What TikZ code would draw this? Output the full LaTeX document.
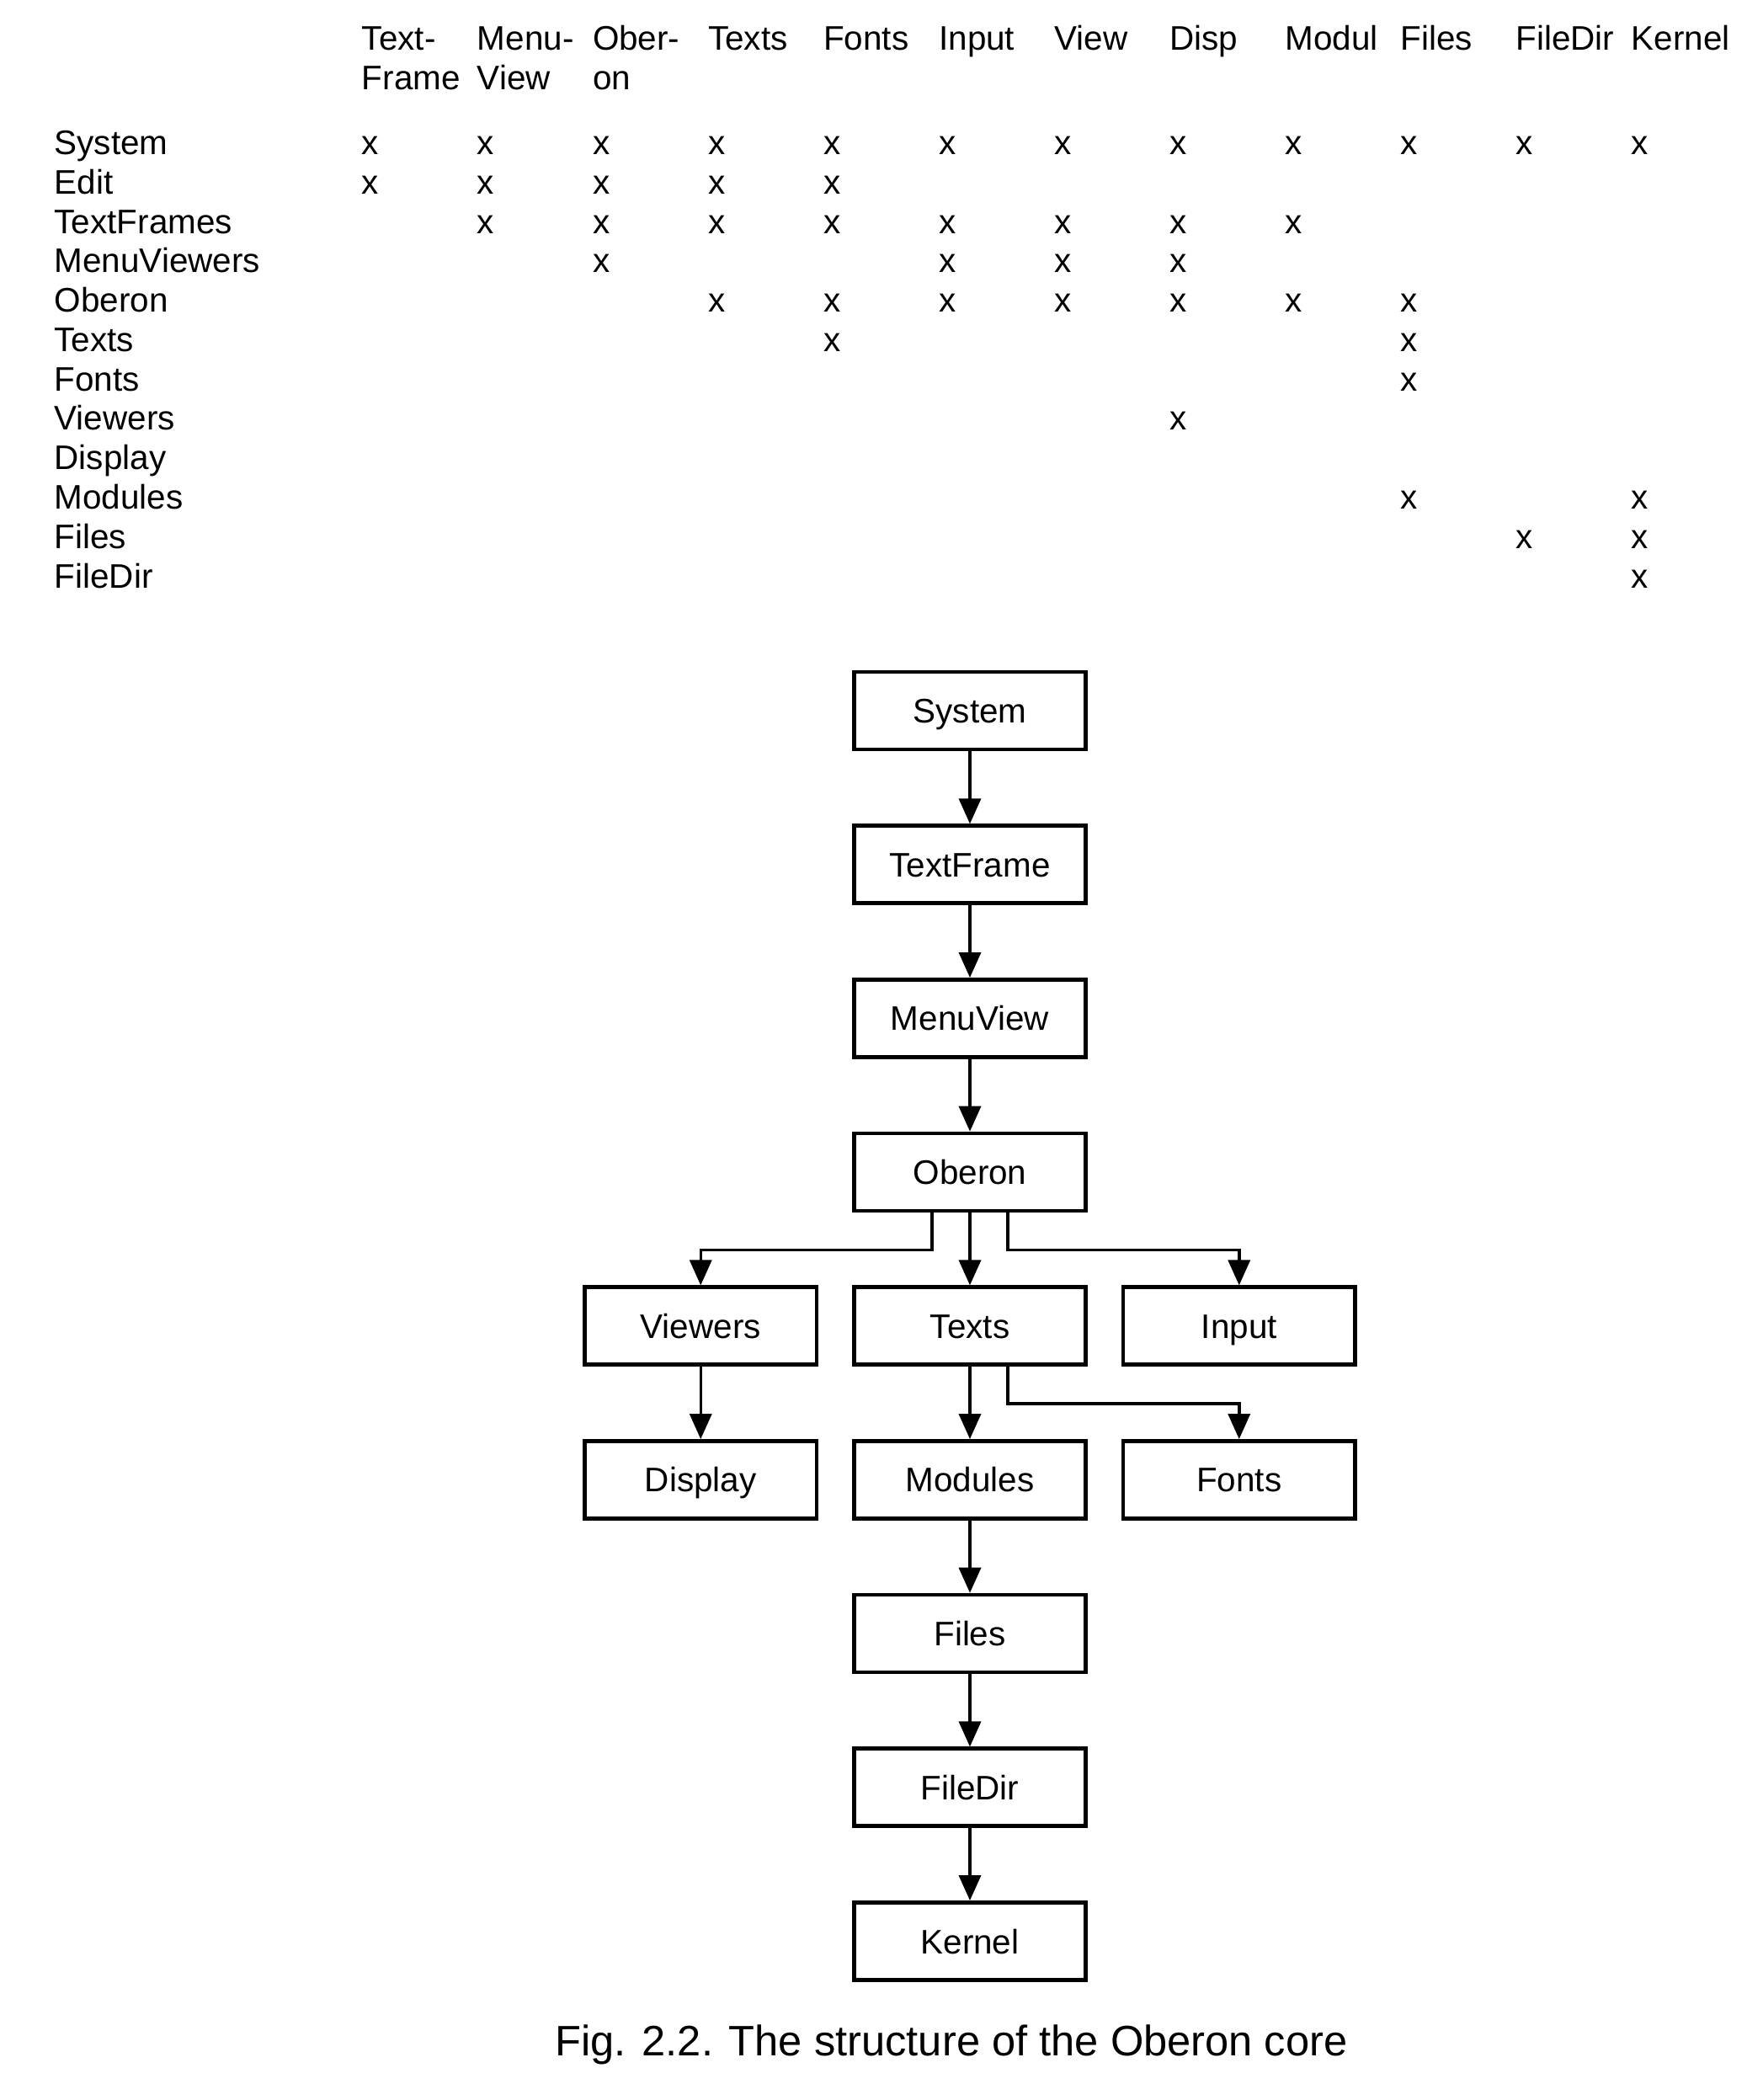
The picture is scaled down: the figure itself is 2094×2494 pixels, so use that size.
\documentclass[tikz,border=0pt]{standalone}
\usepackage{fontspec}
\setmainfont{Liberation Sans}
\usetikzlibrary{positioning,arrows.meta}

\begin{document}
\begin{tikzpicture}[x=0.01cm,y=-0.01cm,
  box/.style={draw,line width=1.3pt,minimum width=2.75cm,minimum height=0.92cm,inner sep=0pt,text height=8.3pt,text depth=0pt,font=\fontsize{11.5}{13.3}\selectfont},
  arr/.style={line width=1pt,-{Triangle[length=0.3cm,width=0.26cm]}},
  node distance=0.86cm and 0.40cm]
\useasboundingbox (0,0) rectangle (2094,2494);
\node (table) [anchor=base west,inner sep=0pt,font=\fontsize{11.5}{13.3}\selectfont] at (64,60) {%
\setlength{\tabcolsep}{0pt}%
\begin{tabular}[t]{p{3.65cm}*{12}{p{1.37cm}}}
 & Text- & Menu- & Ober- & Texts & Fonts & Input & View & Disp & Modul & Files & FileDir & Kernel \\
 & Frame & View & on \\[0.3cm]
System      & x & x & x & x & x & x & x & x & x & x & x & x \\
Edit        & x & x & x & x & x \\
TextFrames  &   & x & x & x & x & x & x & x & x \\
MenuViewers &   &   & x &   &   & x & x & x \\
Oberon      &   &   &   & x & x & x & x & x & x & x \\
Texts       &   &   &   &   & x &   &   &   &   & x \\
Fonts       &   &   &   &   &   &   &   &   &   & x \\
Viewers     &   &   &   &   &   &   &   & x \\
Display     \\
Modules     &   &   &   &   &   &   &   &   &   & x &   & x \\
Files       &   &   &   &   &   &   &   &   &   &   & x & x \\
FileDir     &   &   &   &   &   &   &   &   &   &   &   & x \\
\end{tabular}};

\node (system) [box] at (1152,844) {System};
\node (textframe) [box,below=of system] {TextFrame};
\node (menuview) [box,below=of textframe] {MenuView};
\node (oberon) [box,below=of menuview] {Oberon};
\node (texts) [box,below=of oberon] {Texts};
\node (viewers) [box,left=of texts] {Viewers};
\node (input) [box,right=of texts] {Input};
\node (modules) [box,below=of texts] {Modules};
\node (display) [box,below=of viewers] {Display};
\node (fonts) [box,below=of input] {Fonts};
\node (files) [box,below=of modules] {Files};
\node (filedir) [box,below=of files] {FileDir};
\node (kernel) [box,below=of filedir] {Kernel};

\draw[arr] (system) -- (textframe);
\draw[arr] (textframe) -- (menuview);
\draw[arr] (menuview) -- (oberon);
\draw[arr] (oberon) -- (texts);
\draw[arr] ([xshift=-0.45cm]oberon.south) -- ++(0,44) -| (viewers);
\draw[arr] ([xshift=0.45cm]oberon.south) -- ++(0,44) -| (input);
\draw[arr] (viewers) -- (display);
\draw[arr] (texts) -- (modules);
\draw[arr] ([xshift=0.45cm]texts.south) -- ++(0,44) -| (fonts);
\draw[arr] (modules) -- (files);
\draw[arr] (files) -- (filedir);
\draw[arr] (filedir) -- (kernel);

\node (caption) [font=\fontsize{14.4}{17}\selectfont] at (1130,2428) {Fig. 2.2. The structure of the Oberon core};
\end{tikzpicture}
\end{document}
